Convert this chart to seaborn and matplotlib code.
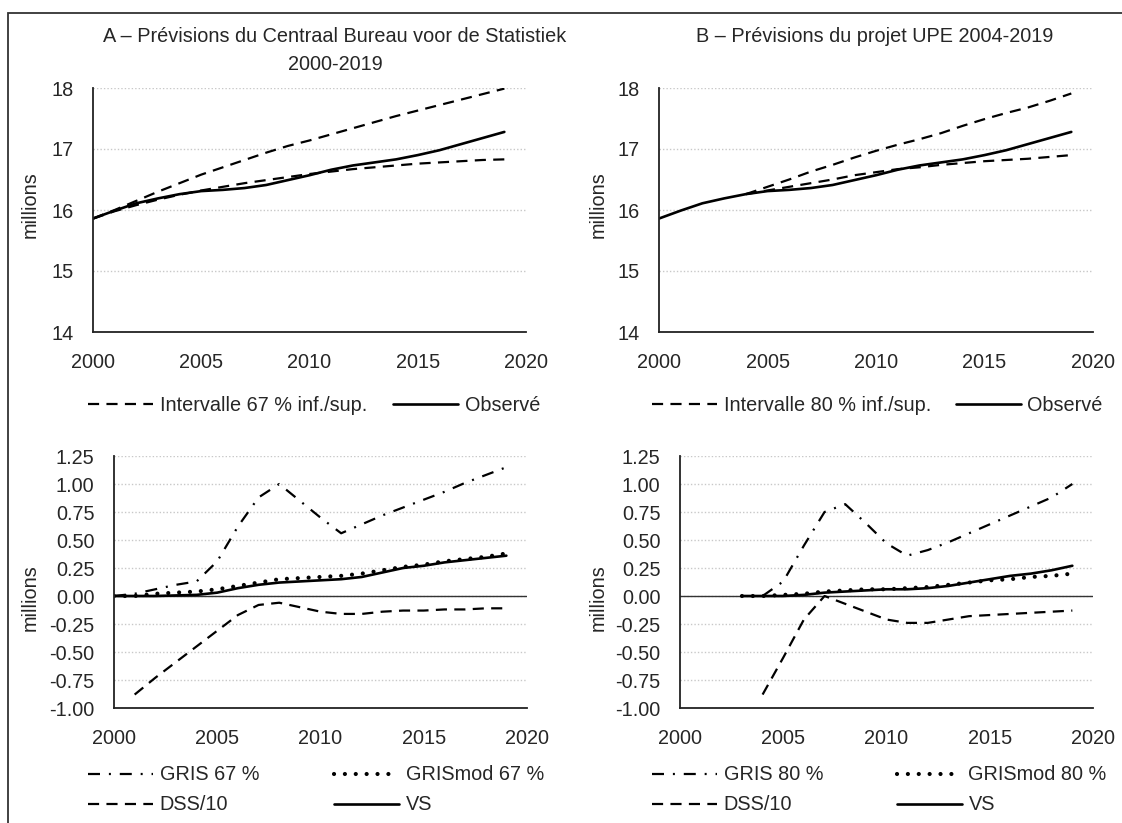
import numpy as np
import pandas as pd
import seaborn as sns
import matplotlib
matplotlib.use("Agg")
from matplotlib import pyplot as plt
from matplotlib.patches import Rectangle
from matplotlib.ticker import MultipleLocator, FormatStrFormatter

# ---- data (millions) ----
years = list(range(2000, 2020))
observe = [15.86, 15.99, 16.11, 16.19, 16.26, 16.31, 16.33, 16.36, 16.41, 16.49,
           16.57, 16.66, 16.73, 16.78, 16.83, 16.90, 16.98, 17.08, 17.18, 17.28]

# A - CBS 67 % interval
cbs_sup = [15.86, 16.00, 16.15, 16.30, 16.44, 16.58, 16.70, 16.82, 16.94, 17.05,
           17.14, 17.24, 17.34, 17.44, 17.54, 17.63, 17.72, 17.81, 17.90, 17.99]
cbs_inf = [15.86, 15.98, 16.08, 16.17, 16.25, 16.32, 16.38, 16.44, 16.49, 16.54,
           16.59, 16.63, 16.67, 16.70, 16.73, 16.76, 16.78, 16.80, 16.82, 16.83]

# B - UPE 80 % interval
upe_years = list(range(2004, 2020))
upe_sup = [16.26, 16.38, 16.50, 16.63, 16.74, 16.86, 16.97, 17.07, 17.16, 17.26,
           17.38, 17.49, 17.59, 17.68, 17.79, 17.91]
upe_inf = [16.26, 16.32, 16.38, 16.44, 16.50, 16.57, 16.62, 16.67, 16.70, 16.74,
           16.77, 16.80, 16.82, 16.84, 16.87, 16.90]

# A - scores
gris_a = [0.00, 0.02, 0.06, 0.10, 0.13, 0.31, 0.62, 0.88, 1.00, 0.85,
          0.70, 0.56, 0.64, 0.72, 0.79, 0.86, 0.93, 1.01, 1.08, 1.15]
gmod_a = [0.00, 0.00, 0.02, 0.03, 0.04, 0.06, 0.09, 0.12, 0.15, 0.16,
          0.17, 0.18, 0.20, 0.23, 0.26, 0.28, 0.31, 0.33, 0.35, 0.38]
vs_a = [0.00, 0.00, 0.00, 0.005, 0.01, 0.03, 0.07, 0.10, 0.12, 0.13,
        0.14, 0.15, 0.17, 0.21, 0.25, 0.27, 0.30, 0.32, 0.34, 0.36]
dss_a_years = list(range(2001, 2020))
dss_a = [-0.88, -0.73, -0.59, -0.45, -0.31, -0.17, -0.08, -0.06, -0.10, -0.14,
         -0.16, -0.16, -0.14, -0.13, -0.13, -0.12, -0.12, -0.11, -0.11]

# B - scores
b_years = list(range(2003, 2020))
gmod_b = [0.00, 0.00, 0.01, 0.02, 0.04, 0.05, 0.06, 0.06, 0.07, 0.08,
          0.10, 0.12, 0.14, 0.15, 0.17, 0.18, 0.20]
vs_b = [0.00, 0.00, 0.00, 0.01, 0.03, 0.04, 0.05, 0.06, 0.06, 0.07,
        0.09, 0.12, 0.15, 0.18, 0.20, 0.23, 0.27]
gris_b_years = list(range(2004, 2020))
gris_b = [0.00, 0.13, 0.45, 0.75, 0.82, 0.65, 0.47, 0.36, 0.41, 0.48,
          0.56, 0.64, 0.72, 0.80, 0.88, 1.00]
dss_b = [-0.88, -0.55, -0.21, 0.00, -0.07, -0.14, -0.21, -0.24, -0.24, -0.21,
         -0.18, -0.17, -0.16, -0.15, -0.14, -0.13]

sns.set_style("white")
plt.rcParams['font.family'] = ['Liberation Sans', 'DejaVu Sans']
plt.rcParams['font.size'] = 14.3

W, H = 1122, 823
fig = plt.figure(figsize=(W / 100, H / 100), dpi=100)


def fx(px):
    return px / W


def fy(py):
    return 1 - py / H


def add_ax(left, right, top, bottom):
    return fig.add_axes([fx(left), fy(bottom), (right - left) / W, (bottom - top) / H])


ax_a = add_ax(93, 526, 88, 332)
ax_b = add_ax(659, 1093, 88, 332)
ax_c = add_ax(114, 527, 456, 708)
ax_d = add_ax(680, 1093, 456, 708)

LW = 1.6
DASH = (0, (5, 3.3))
DASHDOT = (0, (5.4, 4, 0.9, 4))
DOTS = (0, (0.01, 2.6))


def line(ax, x, y, ls, label, lw=LW, **kw):
    sns.lineplot(x=x, y=y, ax=ax, color='black', lw=lw, linestyle=ls, label=label, **kw)


# top panels
line(ax_a, years, cbs_sup, DASH, 'Intervalle 67 % inf./sup.')
line(ax_a, years, cbs_inf, DASH, '_nolegend_')
line(ax_a, years, observe, '-', 'Observé', lw=1.9)

line(ax_b, upe_years, upe_sup, DASH, 'Intervalle 80 % inf./sup.')
line(ax_b, upe_years, upe_inf, DASH, '_nolegend_')
line(ax_b, years, observe, '-', 'Observé', lw=1.9)

# bottom panels
for ax in (ax_c, ax_d):
    ax.axhline(0, color='#333333', lw=1.0, zorder=1)

line(ax_c, years, gris_a, DASHDOT, 'GRIS 67 %')
line(ax_c, dss_a_years, dss_a, DASH, 'DSS/10')
line(ax_c, years, gmod_a, DOTS, 'GRISmod 67 %', lw=3, dash_capstyle='round')
line(ax_c, years, vs_a, '-', 'VS', lw=1.9)

line(ax_d, gris_b_years, gris_b, DASHDOT, 'GRIS 80 %')
line(ax_d, gris_b_years, dss_b, DASH, 'DSS/10')
line(ax_d, b_years, gmod_b, DOTS, 'GRISmod 80 %', lw=3, dash_capstyle='round')
line(ax_d, b_years, vs_b, '-', 'VS', lw=1.9)

for ax in (ax_a, ax_b, ax_c, ax_d):
    ax.set_xlim(2000, 2020)
    ax.xaxis.set_major_locator(MultipleLocator(5))
    ax.xaxis.set_minor_locator(MultipleLocator(1))
    for s in ('top', 'right'):
        ax.spines[s].set_visible(False)
    for s in ('left', 'bottom'):
        ax.spines[s].set_color('#222222')
        ax.spines[s].set_linewidth(1.3)
    ax.tick_params(which='both', direction='out', length=6, width=1.2, color='#222222')
    ax.tick_params(axis='y', pad=8)
    ax.tick_params(axis='x', pad=9)
    ax.grid(axis='y', color='#c8c8c8', linestyle=(0, (1, 1.5)), lw=1)
    ax.set_xlabel('')
    ax.set_ylabel('')
    leg = ax.get_legend()
    if leg:
        leg.remove()

for ax in (ax_a, ax_b):
    ax.set_ylim(14, 18)
    ax.yaxis.set_major_locator(MultipleLocator(1))
for ax in (ax_c, ax_d):
    ax.set_ylim(-1, 1.25)
    ax.yaxis.set_major_locator(MultipleLocator(0.25))
    ax.yaxis.set_major_formatter(FormatStrFormatter('%.2f'))

# y labels
for xpix, ypix in ((30, 205), (598, 205), (30, 598), (598, 598)):
    fig.text(fx(xpix), fy(ypix), 'millions', rotation=90, ha='center', va='center')

# titles
fig.text(fx(335), fy(36), 'A – Prévisions du Centraal Bureau voor de Statistiek',
         ha='center', va='center')
fig.text(fx(335), fy(65), '2000-2019', ha='center', va='center')
fig.text(fx(875), fy(36), 'B – Prévisions du projet UPE 2004-2019', ha='center', va='center')


# legends: one entry each, placed where the reference has them
def entry(ax, idx, xpix, ypix):
    h, l = ax.get_legend_handles_labels()
    fig.legend([h[idx]], [l[idx]], loc='center left', bbox_to_anchor=(fx(xpix), fy(ypix)),
               frameon=False, borderpad=0, borderaxespad=0,
               handlelength=3.25, handletextpad=0.35)


entry(ax_a, 0, 88, 405)
entry(ax_a, 1, 393, 405)
entry(ax_b, 0, 652, 405)
entry(ax_b, 1, 956, 405)

entry(ax_c, 0, 88, 775)
entry(ax_c, 2, 334, 775)
entry(ax_c, 1, 88, 805)
entry(ax_c, 3, 334, 805)
entry(ax_d, 0, 652, 775)
entry(ax_d, 2, 897, 775)
entry(ax_d, 1, 652, 805)
entry(ax_d, 3, 897, 805)

# outer frame
fig.add_artist(Rectangle((fx(8), -0.05), 1.2, 1.05 - 13 / H, transform=fig.transFigure,
                         fill=False, ec='#333333', lw=1.3))

fig.savefig('out.png', dpi=100)
